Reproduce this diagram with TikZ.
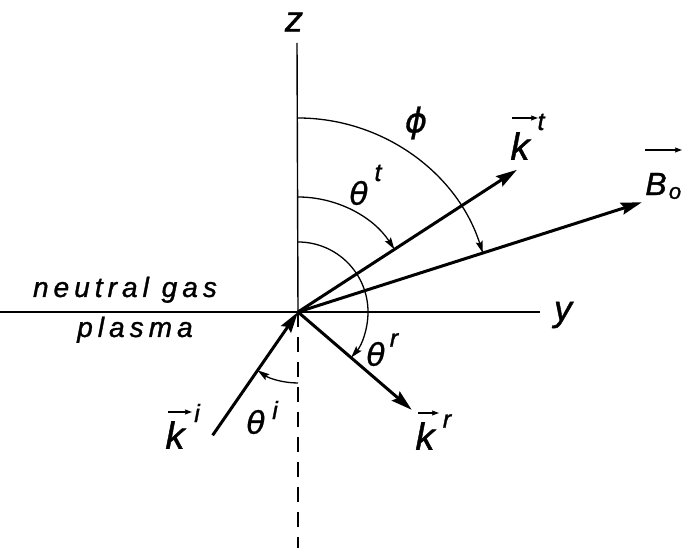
\documentclass[tikz,border=0pt]{standalone}
\usepackage{fontspec}
\setmainfont{Liberation Sans}
\newfontfamily\lab{Liberation Sans}[ItalicFeatures={FakeBold=1.2}]
\newfontfamily\grk{DejaVu Sans}[ItalicFeatures={FakeBold=0.8}]
\newfontfamily\spaced{Liberation Sans}[LetterSpace=18,ItalicFeatures={FakeBold=1.2}]
\usetikzlibrary{arrows.meta,calc}
\tikzset{
  axis/.style={line width=1.4pt},
  vect/.style={line width=3pt,-{Stealth[length=21pt,width=12pt,inset=3pt]}},
  arcarrow/.style={line width=1.3pt,-{Stealth[length=12pt,width=7pt,inset=2pt]}},
  overarrow/.style={line width=1.3pt,-{Stealth[length=7pt,width=5pt,inset=1pt]}},
  big/.style={inner sep=0pt,font=\lab\itshape\fontsize{38}{38}\selectfont},
  mid/.style={inner sep=0pt,font=\lab\itshape\fontsize{36}{36}\selectfont},
  bee/.style={inner sep=0pt,font=\lab\itshape\fontsize{32}{32}\selectfont},
  gk/.style={inner sep=0pt,font=\grk\itshape\fontsize{31}{31}\selectfont},
  phis/.style={inner sep=0pt,font=\grk\itshape\fontsize{34}{34}\selectfont},
  sup/.style={inner sep=0pt,font=\lab\itshape\fontsize{25}{25}\selectfont},
  subo/.style={inner sep=0pt,font=\lab\itshape\fontsize{22}{22}\selectfont},
  word/.style={inner sep=0pt,font=\spaced\itshape\fontsize{28}{28}\selectfont},
}
\begin{document}
\begin{tikzpicture}[x=1pt,y=1pt]
\useasboundingbox (0,0) rectangle (684,548);
% origin and axis ends
\coordinate (O) at (298,236);
\coordinate (ztop) at (297,505);
\coordinate (zbot) at (298,0);
\coordinate (yl) at (0,236);
\coordinate (yr) at (540,236);
% axes
\draw[axis] (yl) -- (yr);
\draw[axis] (O) -- (ztop);
\draw[axis,dash pattern=on 15pt off 10pt] (O) -- (zbot);
% vectors
\coordinate (kt) at ($(O)+(33:261)$);
\coordinate (Bo) at ($(O)+(17.7:361)$);
\coordinate (kr) at ($(O)+(-40.7:150)$);
\coordinate (ki) at ($(O)+(235.3:150)$);
\draw[vect] (O) -- (kt);
\draw[vect] (O) -- (Bo);
\draw[vect] (O) -- (kr);
\draw[vect] (ki) -- (O);
% angle arcs
\draw[arcarrow] ($(O)+(0,194)$) arc[start angle=90,end angle=17.7,radius=194];
\draw[arcarrow] ($(O)+(0,115)$) arc[start angle=90,end angle=33,radius=115];
\draw[arcarrow] ($(O)+(0,70)$) arc[start angle=90,end angle=-40.7,radius=70];
\draw[arcarrow] ($(O)+(0,-71)$) arc[start angle=270,end angle=235.3,radius=71];
% axis labels
\node[mid] (zlab) at (294,526) {z};
\node[mid] (ylab) at (563,233) {y};
\node[word,anchor=base] (ng) at (125,251) {neutral gas};
\node[word,anchor=base] (pl) at (135,211) {plasma};
% angle labels
\node[phis] (phi) at (416,425) {ϕ};
\node[gk] (tht) at (359,355) {θ};
\node[sup] (thts) at (378,375) {t};
\node[gk] (thr) at (376,194) {θ};
\node[sup] (thrs) at (394,208) {r};
\node[gk] (thi) at (256,126) {θ};
\node[sup] (this) at (275,138) {i};
% vector labels
\node[big] (lkt) at (520,402) {k};
\node[sup] (lkts) at (541,426) {t};
\draw[overarrow] ($(lkt.center)+(-8,28)$) -- ($(lkt.center)+(18,28)$);
\node[bee] (lB) at (656,364) {B};
\node[subo] (lBs) at (675,355) {o};
\draw[overarrow] ($(lB.center)+(-11,34)$) -- ($(lB.center)+(26,34)$);
\node[big] (lki) at (175,113) {k};
\node[sup] (lkis) at (197,135) {i};
\draw[overarrow] ($(lki.center)+(-7,23)$) -- ($(lki.center)+(17,23)$);
\node[big] (lkr) at (425,112) {k};
\node[sup] (lkrs) at (447,127) {r};
\draw[overarrow] ($(lkr.center)+(-7,23)$) -- ($(lkr.center)+(14,23)$);
\end{tikzpicture}
\end{document}
